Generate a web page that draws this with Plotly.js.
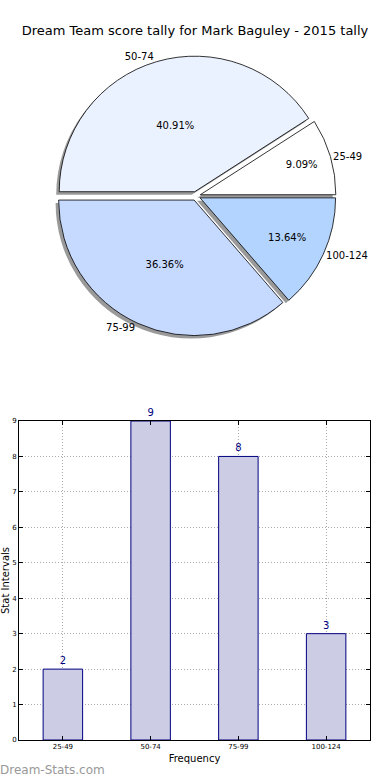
<!DOCTYPE html>
<html>
<head>
<meta charset="utf-8">
<script src="https://cdn.plot.ly/plotly-3.0.1.min.js"></script>
<style>html,body{margin:0;padding:0;background:#fff;}#chart{width:390px;height:780px;}</style>
</head>
<body>
<div id="chart"></div>
<script>
// ---- data ----
const categories = ["25-49", "50-74", "75-99", "100-124"];
const counts = [2, 9, 8, 3];
const sliceColors = ["#FFFFFF", "#EAF1FF", "#C6D9FF", "#B3D4FF"];
const yTicks = [0, 1, 2, 3, 4, 5, 6, 7, 8, 9];
const titleText = "Dream Team score tally for Mark Baguley - 2015 tally";

const W = 390, H = 780;
const px = v => v / W;
const py = v => 1 - v / H;

// pie placement
const cx = 196, cy = 196, half = 140;
const pull = 0.033;
const startRotation = 57.27;
const pieDomain = {x: [px(cx - half), px(cx + half)], y: [py(cy + half), py(cy - half)]};
const shadowDomain = {x: [px(cx - half - 3), px(cx + half - 3)], y: [py(cy + half + 3), py(cy - half + 3)]};

const pieCommon = {
  type: "pie", labels: categories, values: counts, sort: false,
  direction: "counterclockwise", rotation: startRotation,
  pull: categories.map(() => pull), hoverinfo: "none", showlegend: false
};

const shadow = Object.assign({}, pieCommon, {
  domain: shadowDomain,
  marker: {colors: categories.map(() => "#9a9a9a"), line: {width: 0}},
  textinfo: "none"
});
const pie = Object.assign({}, pieCommon, {
  domain: pieDomain,
  marker: {colors: sliceColors, line: {color: "#000", width: 0.8}},
  texttemplate: "%{percent:.2%}", textposition: "inside",
  insidetextorientation: "horizontal",
  textfont: {family: "DejaVu Sans", size: 10, color: "#000"}
});
const pieLabels = Object.assign({}, pieCommon, {
  domain: pieDomain,
  marker: {colors: categories.map(() => "rgba(0,0,0,0)"), line: {width: 0}},
  texttemplate: "%{label}", textposition: "outside",
  outsidetextfont: {family: "DejaVu Sans", size: 10, color: "#000"}
});

const bars = {
  type: "bar", x: categories, y: counts, xaxis: "x", yaxis: "y",
  width: 0.45,
  marker: {color: "#CCCCE4", line: {color: "#000080", width: 1}},
  text: counts.map(String), textposition: "outside", cliponaxis: false,
  textfont: {family: "DejaVu Sans", size: 10, color: "#000080"},
  hoverinfo: "none", showlegend: false
};

const layout = {
  width: W, height: H,
  margin: {l: 0, r: 0, t: 0, b: 0},
  paper_bgcolor: "#fff", plot_bgcolor: "#fff",
  font: {family: "DejaVu Sans", color: "#000"},
  title: {text: titleText, x: 0.5, xanchor: "center", y: py(30), yanchor: "middle",
          font: {family: "DejaVu Sans", size: 13, color: "#000"}},
  xaxis: {
    domain: [px(19), px(370)], anchor: "y",
    range: [-0.5, 3.5], type: "category",
    showline: true, linecolor: "#000", linewidth: 1, mirror: "ticks",
    ticks: "inside", ticklen: 4, tickcolor: "#000",
    showgrid: true, gridcolor: "#aaaaaa", griddash: "1px,2px", gridwidth: 1,
    tickfont: {family: "DejaVu Sans", size: 7, color: "#000"},
    title: {text: "Frequency", standoff: 4, font: {family: "DejaVu Sans", size: 10, color: "#000"}},
    automargin: false, fixedrange: true
  },
  yaxis: {
    domain: [py(740), py(421)], anchor: "x",
    range: [0, 9], tickvals: yTicks,
    showline: true, linecolor: "#000", linewidth: 1, mirror: "ticks",
    ticks: "inside", ticklen: 4, tickcolor: "#000",
    showgrid: true, gridcolor: "#aaaaaa", griddash: "1px,2px", gridwidth: 1,
    zeroline: false,
    tickfont: {family: "DejaVu Sans", size: 7, color: "#000"},
    title: {text: "Stat Intervals", standoff: 2, font: {family: "DejaVu Sans", size: 10, color: "#000"}},
    automargin: false, fixedrange: true
  },
  annotations: [{
    text: "Dream-Stats.com", xref: "paper", yref: "paper",
    x: px(-2), y: py(770), xanchor: "left", yanchor: "middle", showarrow: false,
    font: {family: "DejaVu Sans", size: 12, color: "#999999"}
  }]
};

Plotly.newPlot("chart", [shadow, pie, pieLabels, bars], layout, {staticPlot: true, displayModeBar: false});
</script>
</body>
</html>
